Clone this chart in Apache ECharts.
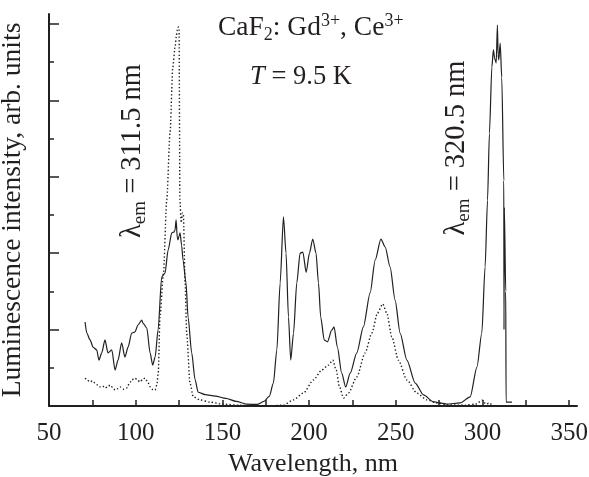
<!DOCTYPE html>
<html>
<head>
<meta charset="utf-8">
<script src="https://cdn.jsdelivr.net/npm/echarts@6/dist/echarts.min.js"></script>
<style>
  html, body { margin: 0; padding: 0; background: #fff; }
  #chart { width: 589px; height: 477px; }
</style>
</head>
<body>
<div id="chart"></div>
<script>
// Excitation spectra of CaF2:Gd3+,Ce3+ at 9.5 K (arbitrary intensity units)

// Solid curve: emission monitored at 320.5 nm
const solidWavelength = [
  70.8, 71.8, 73.7, 75.4, 77.5, 78.8, 80.4, 82.3, 84.0, 86.2,
  88.1, 89.8, 91.9, 93.8, 95.6, 97.7, 99.6, 101.3, 103.5, 104.2,
  106.4, 108.3, 109.8, 111.2, 112.9, 115.0, 116.9, 118.7, 120.8, 122.0,
  122.7, 123.3, 124.0, 124.4, 125.0, 125.6, 126.5, 127.3, 129.0, 130.2,
  132.3, 134.2, 136.0, 140.0, 146.0, 152.0, 158.0, 164.0, 170.0, 174.0,
  177.0, 179.4, 181.4, 183.3, 185.2, 186.7, 188.1, 189.4, 191.0, 192.9,
  194.8, 196.4, 198.3, 200.2, 202.1, 204.0, 205.4, 206.7, 208.7, 210.6,
  213.1, 214.4, 216.3, 218.8, 221.1, 223.7, 227.5, 231.3, 235.2, 238.1,
  241.4, 243.9, 246.7, 249.6, 252.5, 256.4, 261.2, 266.0, 271.7, 279.4,
  287.1, 292.9, 296.8, 299.6, 301.5, 302.9, 304.0, 305.4, 306.3, 307.0,
  307.9, 308.6, 309.0, 309.4, 310.2, 311.1, 312.3, 312.4, 312.6, 313.4,
  313.6, 317.0
];
const solidIntensity = [
  2.20, 1.91, 1.73, 1.54, 1.47, 1.20, 1.39, 1.73, 1.39, 1.47,
  0.94, 1.20, 1.65, 1.28, 1.54, 1.91, 1.94, 2.12, 2.25, 2.17,
  2.04, 1.39, 1.07, 1.28, 1.99, 3.38, 3.48, 4.08, 4.53, 4.55,
  4.61, 4.87, 4.40, 4.35, 4.45, 4.53, 4.20, 3.82, 3.22, 2.33,
  1.39, 0.70, 0.36, 0.30, 0.26, 0.20, 0.12, 0.05, 0.04, 0.12,
  0.25, 0.60, 1.47, 3.22, 4.95, 4.00, 2.33, 1.20, 1.90, 3.22,
  4.00, 4.03, 3.50, 4.00, 4.37, 4.00, 3.22, 2.33, 1.73, 1.68,
  1.99, 2.07, 1.54, 0.86, 0.50, 0.86, 1.39, 2.07, 2.96, 3.82,
  4.37, 4.16, 3.64, 2.77, 1.91, 1.20, 0.60, 0.29, 0.11, 0.05,
  0.08, 0.24, 1.02, 1.91, 3.64, 5.39, 7.14, 8.87, 9.32, 9.10,
  8.98, 9.97, 9.20, 9.06, 9.50, 8.60, 5.90, 2.00, 5.20, 3.00,
  0.10, 0.10
];

// Dotted curve: emission monitored at 311.5 nm
const dottedWavelength = [
  70.8, 72.0, 73.7, 75.0, 76.5, 78.0, 79.4, 81.0, 82.3, 84.0,
  85.2, 86.8, 88.1, 89.5, 91.0, 93.0, 94.8, 96.5, 97.7, 99.6,
  101.0, 102.5, 104.0, 105.4, 107.0, 108.3, 110.0, 111.2, 112.2, 113.0,
  114.0, 116.0, 117.9, 119.8, 121.4, 122.7, 123.5, 124.0, 124.6, 125.0,
  125.5, 126.2, 127.0, 127.5, 128.5, 129.4, 131.3, 133.2, 137.1, 142.9,
  150.0, 160.0, 175.0, 185.0, 191.0, 196.7, 202.5, 207.3, 211.1, 213.7,
  215.6, 217.5, 219.9, 222.7, 227.5, 232.3, 236.2, 239.4, 242.5, 244.8,
  247.7, 251.5, 256.4, 262.1, 267.9, 273.7, 280.0, 290.0, 296.0, 300.0,
  302.0, 304.0, 306.0
];
const dottedIntensity = [
  0.73, 0.68, 0.63, 0.66, 0.60, 0.55, 0.50, 0.52, 0.47, 0.50,
  0.55, 0.48, 0.42, 0.45, 0.50, 0.44, 0.47, 0.60, 0.68, 0.73,
  0.68, 0.63, 0.70, 0.73, 0.62, 0.50, 0.42, 0.42, 0.55, 0.86,
  2.33, 3.48, 5.39, 7.14, 8.87, 9.40, 9.70, 9.84, 9.92, 9.90,
  5.40, 4.80, 5.05, 5.00, 3.22, 1.91, 0.60, 0.24, 0.16, 0.10,
  0.05, 0.02, 0.00, 0.02, 0.16, 0.34, 0.68, 0.94, 1.07, 1.20,
  0.94, 0.50, 0.21, 0.34, 0.76, 1.39, 1.91, 2.43, 2.67, 2.43,
  1.81, 1.20, 0.68, 0.34, 0.16, 0.08, 0.03, 0.02, 0.05, 0.15,
  0.05, 0.08, 0.00
];

// Axis ticks and labels
const xLabelValues = [50, 100, 150, 200, 250, 300, 350];
const xTickValues = [50, 75, 100, 125, 150, 175, 200, 225, 250, 275, 300, 325, 350];
const yMajorTicks = [2, 4, 6, 8, 10];
const yMinorTicks = [1, 3, 5, 7, 9];

const ink = '#231f20';
const serif = '"Liberation Serif", "DejaVu Serif", serif';

function pairs(xs, ys) {
  return xs.map((x, i) => [x, ys[i]]);
}

// Rich-text styles with sub/superscripts at a given base size
function richStyles(size) {
  const small = Math.round(size * 0.65);
  const lh = Math.round(size * 1.15);
  return {
    n: { fontFamily: serif, fontSize: size, color: ink, lineHeight: lh },
    i: { fontFamily: serif, fontSize: size, color: ink, lineHeight: lh, fontStyle: 'italic' },
    sub: { fontFamily: serif, fontSize: small, color: ink, lineHeight: small - 1, verticalAlign: 'bottom' },
    sup: { fontFamily: serif, fontSize: small, color: ink, lineHeight: small - 1, verticalAlign: 'top' }
  };
}

const chart = echarts.init(document.getElementById('chart'), null, { renderer: 'canvas' });

chart.setOption({
  animation: false,
  backgroundColor: '#ffffff',
  grid: { left: 49, right: 12, top: 14, bottom: 71, containLabel: false, outerBoundsMode: 'none' },
  xAxis: {
    type: 'value',
    min: 50,
    max: 354.5,
    name: 'Wavelength, nm',
    nameLocation: 'middle',
    nameGap: 44,
    nameTextStyle: { fontFamily: serif, fontSize: 26, color: ink },
    axisLine: { show: true, lineStyle: { color: ink, width: 2 } },
    axisTick: { show: true, inside: true, length: 6, customValues: xTickValues,
      lineStyle: { color: ink, width: 1.5 } },
    axisLabel: { show: true, customValues: xLabelValues, margin: 15,
      fontFamily: serif, fontSize: 25, color: ink },
    splitLine: { show: false }
  },
  yAxis: [
    {
      type: 'value',
      min: 0,
      max: 10.26,
      position: 'left',
      name: 'Luminescence intensity, arb. units',
      nameLocation: 'middle',
      nameGap: 22,
      nameTextStyle: { fontFamily: serif, fontSize: 27.5, color: ink },
      axisLine: { show: true, lineStyle: { color: ink, width: 2 } },
      axisTick: { show: true, inside: true, length: 10, customValues: yMajorTicks,
        lineStyle: { color: ink, width: 1.5 } },
      axisLabel: { show: false },
      splitLine: { show: false }
    },
    {
      type: 'value',
      min: 0,
      max: 10.26,
      position: 'left',
      axisLine: { show: false },
      axisTick: { show: true, inside: true, length: 5, customValues: yMinorTicks,
        lineStyle: { color: ink, width: 1.5 } },
      axisLabel: { show: false },
      splitLine: { show: false }
    }
  ],
  series: [
    {
      name: 'λem = 320.5 nm',
      type: 'line',
      data: pairs(solidWavelength, solidIntensity),
      showSymbol: false,
      smooth: 0.25,
      smoothMonotone: 'x',
      lineStyle: { color: ink, width: 1.2 },
      z: 3
    },
    {
      name: 'λem = 311.5 nm',
      type: 'line',
      data: pairs(dottedWavelength, dottedIntensity),
      showSymbol: false,
      smooth: 0.25,
      smoothMonotone: 'x',
      lineStyle: { color: ink, width: 1.4, type: [1.4, 2.2] },
      z: 2
    }
  ],
  graphic: [
    {
      type: 'text',
      x: 218, y: 28,
      style: {
        text: '{n|CaF}{sub|2}{n|: Gd}{sup|3+}{n|, Ce}{sup|3+}',
        rich: richStyles(27.5),
        fontFamily: serif, fontSize: 27.5, fill: ink,
        align: 'left', verticalAlign: 'middle'
      }
    },
    {
      type: 'text',
      x: 301, y: 77,
      style: {
        text: '{i|T}{n| = 9.5 K}',
        rich: richStyles(26.5),
        fontFamily: serif, fontSize: 26.5, fill: ink,
        align: 'center', verticalAlign: 'middle'
      }
    },
    {
      type: 'text',
      x: 133, y: 151,
      rotation: Math.PI / 2,
      style: {
        text: '{n|λ}{sub|em}{n| = 311.5 nm}',
        rich: richStyles(28.5),
        fontFamily: serif, fontSize: 28.5, fill: ink,
        align: 'center', verticalAlign: 'middle'
      }
    },
    {
      type: 'text',
      x: 457, y: 148,
      rotation: Math.PI / 2,
      style: {
        text: '{n|λ}{sub|em}{n| = 320.5 nm}',
        rich: richStyles(28.5),
        fontFamily: serif, fontSize: 28.5, fill: ink,
        align: 'center', verticalAlign: 'middle'
      }
    }
  ]
});
</script>
</body>
</html>
